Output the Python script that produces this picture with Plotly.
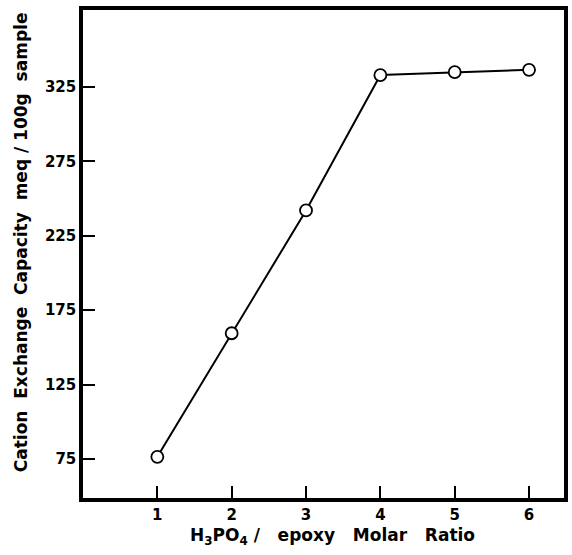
import plotly.graph_objects as go

ratio = [1, 2, 3, 4, 5, 6]
capacity = [76.5, 159.5, 242, 333, 335, 336.5]
y_ticks = [75, 125, 175, 225, 275, 325]
x_ticks = [1, 2, 3, 4, 5, 6]

font_family = "DejaVu Sans"

fig = go.Figure()
fig.add_trace(go.Scatter(
    x=ratio, y=capacity, mode="lines+markers",
    line=dict(color="black", width=2),
    marker=dict(symbol="circle", size=12, color="white",
                line=dict(color="black", width=1.8)),
    showlegend=False,
))

tf = dict(size=15, family=font_family, weight="bold")
fig.update_layout(
    width=572, height=555,
    margin=dict(l=83, r=4, t=10, b=57),
    paper_bgcolor="white", plot_bgcolor="white",
    font=dict(family=font_family, size=15, color="black"),
    xaxis=dict(range=[0, 6.47], tickvals=x_ticks, ticks="inside", ticklen=12,
               tickwidth=2, tickcolor="black", showgrid=False, zeroline=False,
               showline=True, linecolor="black", linewidth=3.5, mirror=True,
               tickfont=tf),
    yaxis=dict(range=[48.8, 376.7], tickvals=y_ticks, ticks="inside", ticklen=12,
               tickwidth=2, tickcolor="black", showgrid=False, zeroline=False,
               showline=True, linecolor="black", linewidth=3.5, mirror=True,
               tickfont=tf),
    annotations=[
        dict(text="Cation  Exchange  Capacity  meq / 100g  sample",
             xref="paper", yref="paper", x=-0.130, y=0.525, textangle=-90,
             showarrow=False, font=dict(size=17, family=font_family, weight="bold"),
             xanchor="center", yanchor="middle"),
        dict(text="H<sub>3</sub>PO<sub>4</sub> /   epoxy   Molar   Ratio",
             xref="paper", yref="paper", x=0.518, y=-0.078,
             showarrow=False, font=dict(size=17, family=font_family, weight="bold"),
             xanchor="center", yanchor="middle"),
    ],
)

fig.write_html("out.html")
